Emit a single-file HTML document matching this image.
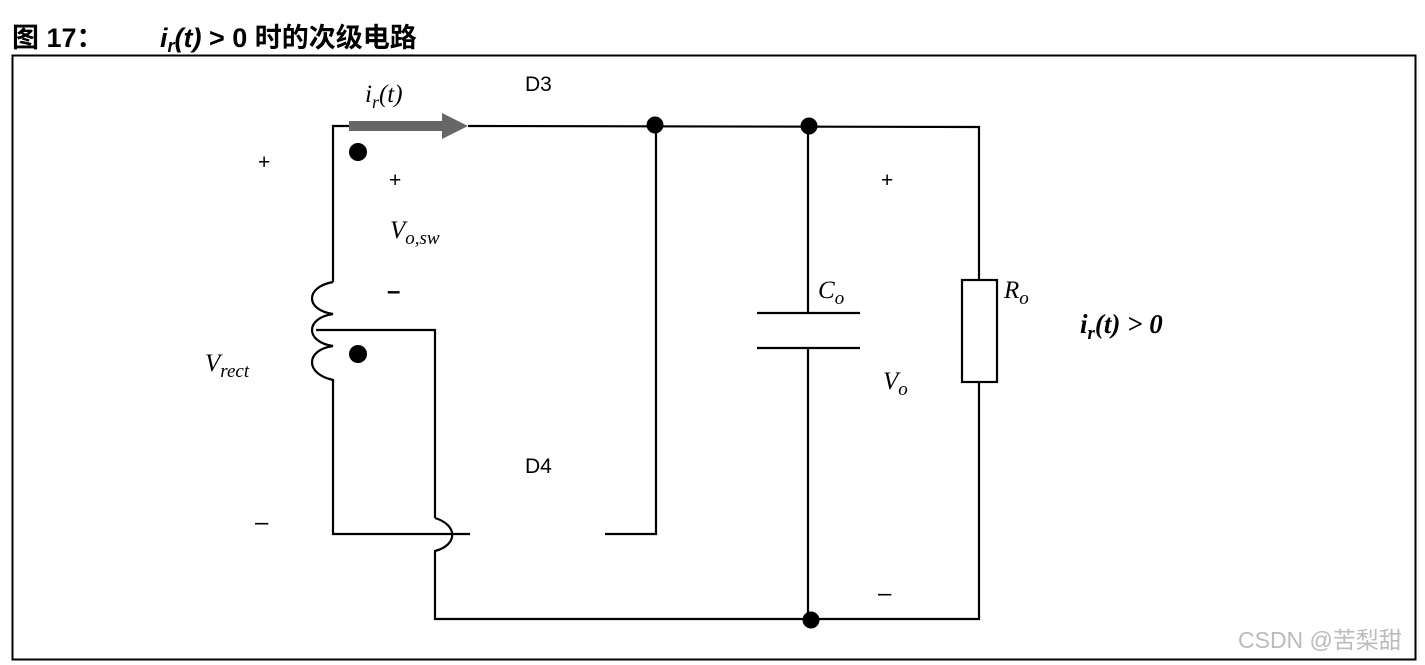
<!DOCTYPE html>
<html><head><meta charset="utf-8"><style>
body{margin:0;background:#fff;width:1425px;height:665px;overflow:hidden}
svg{display:block}
</style></head><body>
<svg width="1425" height="665" viewBox="0 0 1425 665" xmlns="http://www.w3.org/2000/svg">
<text x="12" y="47" font-family="Liberation Sans, Noto Sans CJK SC, sans-serif" font-size="27" font-weight="bold">图 17：</text>
<text x="160" y="47" font-family="Liberation Sans, Noto Sans CJK SC, sans-serif" font-size="27" font-weight="bold"><tspan font-style="italic">i</tspan><tspan font-style="italic" font-size="18" dy="5">r</tspan><tspan dy="-5" font-style="italic">(t)</tspan> &gt; 0 时的次级电路</text>
<rect x="12.5" y="55.5" width="1403" height="604" fill="none" stroke="#000" stroke-width="2"/>
<g fill="none" stroke="#000" stroke-width="2.2">
<path d="M468 126 L979 127 L979 280"/>
<path d="M349 126 L333 126 L333 282"/>
<path d="M333 282 C 305 287, 305 310, 333 314 C 305 318, 305 342, 333 346 C 305 350, 305 374, 333 380 L333 534 L470 534"/>
<path d="M316 330 L435 330 L435 518"/>
<path d="M435 518 C 458 525, 458 545, 435 551 L435 619 L979 619 L979 382"/>
<path d="M605 534 L656 534 L656 126"/>
<path d="M808 126 L808 313"/>
<path d="M757 313 L860 313 M757 348 L860 348"/>
<path d="M808 348 L808 619"/>
<rect x="962" y="280" width="35" height="102"/>
</g>
<rect x="349" y="121" width="94" height="10" fill="#666"/>
<polygon points="442,113 468,126 442,139" fill="#666"/>
<g fill="#000">
<circle cx="655" cy="125" r="8.5"/><circle cx="809" cy="126" r="8.5"/><circle cx="811" cy="620" r="8.5"/>
<circle cx="358" cy="152" r="9"/><circle cx="358" cy="354" r="9"/>
</g>
<g font-family="Liberation Sans, sans-serif" font-size="21">
<text x="525" y="91">D3</text><text x="525" y="473">D4</text>
<text x="258" y="169">+</text><text x="389" y="187">+</text><text x="881" y="187">+</text>
<text x="387" y="299" font-weight="bold" font-size="24">–</text><text x="255" y="530" font-size="24">–</text><text x="878" y="601" font-size="24">–</text>
</g>
<g font-family="Liberation Serif, serif" font-style="italic" font-size="25">
<text x="365" y="102">i<tspan font-size="18" dy="6">r</tspan><tspan dy="-6">(t)</tspan></text>
<text x="390" y="238">V<tspan font-size="19" dy="6">o,sw</tspan></text>
<text x="205" y="371">V<tspan font-size="19" dy="6">rect</tspan></text>
<text x="818" y="298">C<tspan font-size="19" dy="6">o</tspan></text>
<text x="1004" y="298">R<tspan font-size="19" dy="6">o</tspan></text>
<text x="883" y="389">V<tspan font-size="19" dy="6">o</tspan></text>
<text x="1080" y="333" font-weight="bold" font-size="27">i<tspan font-size="19" dy="6">r</tspan><tspan dy="-6">(t) &gt; 0</tspan></text>
</g>
<text x="1238" y="648" font-family="Liberation Sans, Noto Sans CJK SC, sans-serif" font-size="23" fill="#bbb">CSDN @苦梨甜</text>
</svg>
</body></html>
